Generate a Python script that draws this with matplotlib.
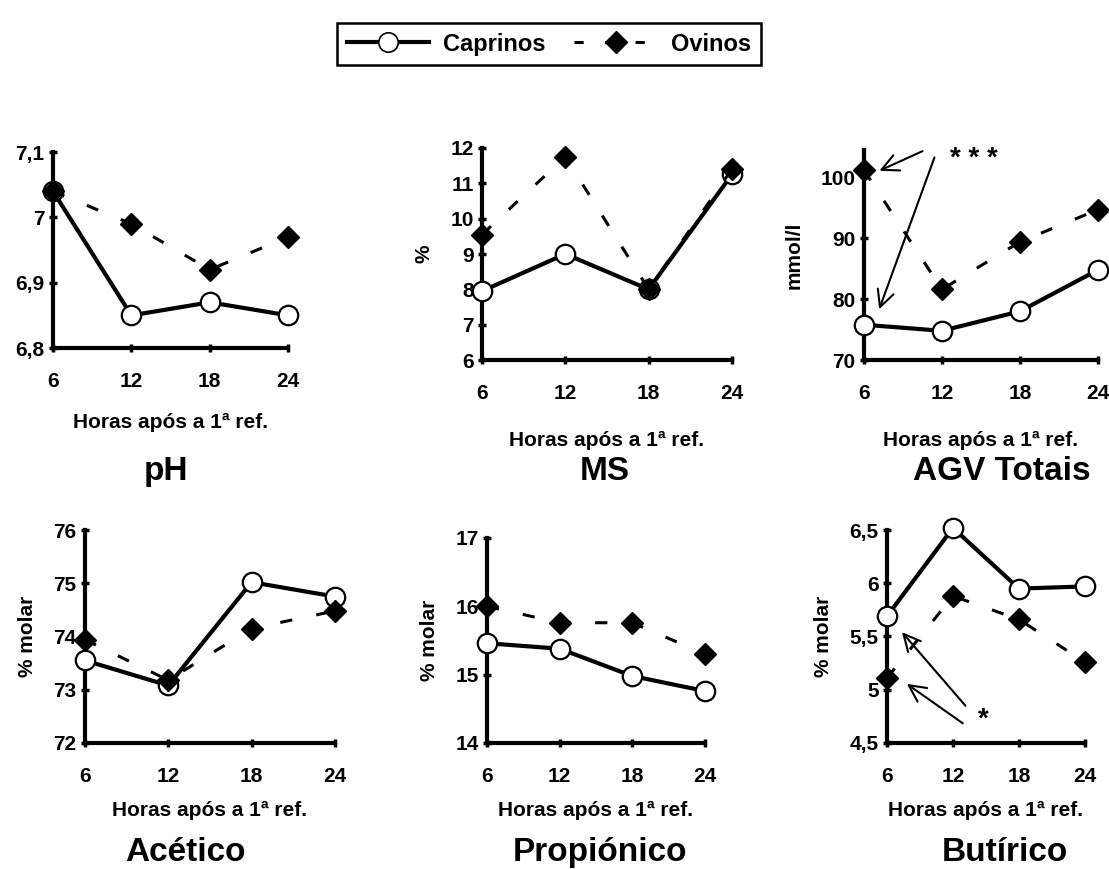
import matplotlib
matplotlib.use("Agg")
import matplotlib.pyplot as plt
from matplotlib import font_manager
from matplotlib.lines import Line2D

# fonte estreita se existir
nomes = {f.name for f in font_manager.fontManager.ttflist}
narrow = 'Liberation Sans Narrow' if 'Liberation Sans Narrow' in nomes else 'Liberation Sans'
plt.rcParams['font.family'] = [narrow, 'DejaVu Sans']
plt.rcParams['font.weight'] = 'bold'

horas = [6, 12, 18, 24]

# pH
ph_cap = [7.04, 6.85, 6.87, 6.85]
ph_ovi = [7.04, 6.99, 6.92, 6.97]
ph_ticks = [6.8, 6.9, 7.0, 7.1]
ph_labels = ['6,8', '6,9', '7', '7,1']

# MS
ms_cap = [7.95, 9.0, 8.0, 11.25]
ms_ovi = [9.55, 11.75, 8.0, 11.4]
ms_ticks = [6, 7, 8, 9, 10, 11, 12]
ms_labels = ['6', '7', '8', '9', '10', '11', '12']

# AGV totais
agv_cap = [75.8, 74.8, 78.0, 84.8]
agv_ovi = [101.2, 81.6, 89.4, 94.7]
agv_ticks = [70, 80, 90, 100]
agv_labels = ['70', '80', '90', '100']

# Acetico
ace_cap = [73.55, 73.08, 75.02, 74.75]
ace_ovi = [73.94, 73.18, 74.15, 74.48]
ace_ticks = [72, 73, 74, 75, 76]
ace_labels = ['72', '73', '74', '75', '76']

# Propionico
pro_cap = [15.46, 15.38, 14.98, 14.76]
pro_ovi = [16.0, 15.76, 15.76, 15.3]
pro_ticks = [14, 15, 16, 17]
pro_labels = ['14', '15', '16', '17']

# Butirico
but_cap = [5.69, 6.52, 5.95, 5.97]
but_ovi = [5.11, 5.88, 5.66, 5.26]
but_ticks = [4.5, 5.0, 5.5, 6.0, 6.5]
but_labels = ['4,5', '5', '5,5', '6', '6,5']

xlabel = 'Horas após a 1ª ref.'

paineis = [
    # cap, ovi, ticks, labels, ylim, ylabel, titulo, posicao, pos titulo, labelpad
    (ph_cap, ph_ovi, ph_ticks, ph_labels, (6.8, 7.1), '', 'pH',
     [0.0478, 0.5995, 0.212, 0.2255], (0.150, 0.457), 16),
    (ms_cap, ms_ovi, ms_ticks, ms_labels, (6, 12), '%', 'MS',
     [0.4346, 0.5857, 0.2254, 0.244], (0.545, 0.457), 20),
    (agv_cap, agv_ovi, agv_ticks, agv_labels, (70, 104.5), 'mmol/l', 'AGV Totais',
     [0.779, 0.5857, 0.211, 0.2417], (0.903, 0.457), 20),
    (ace_cap, ace_ovi, ace_ticks, ace_labels, (72, 76), '% molar', 'Acético',
     [0.0766, 0.145, 0.2254, 0.2451], (0.167, 0.019), 11),
    (pro_cap, pro_ovi, pro_ticks, pro_labels, (14, 17), '% molar', 'Propiónico',
     [0.4391, 0.145, 0.1966, 0.2359], (0.541, 0.019), 11),
    (but_cap, but_ovi, but_ticks, but_labels, (4.5, 6.5), '% molar', 'Butírico',
     [0.7998, 0.145, 0.1785, 0.2451], (0.906, 0.019), 11),
]

fig = plt.figure(figsize=(11.09, 8.69), dpi=100)
eixos = []

for cap, ovi, ticks, labels, ylim, ylab, titulo, pos, tpos, lpad in paineis:
    ax = fig.add_axes(pos)
    ax.plot(horas, cap, color='black', lw=3, marker='o', ms=14,
            mfc='white', mec='black', mew=1.6, clip_on=False, zorder=3)
    ax.plot(horas, ovi, color='black', lw=2.2, dashes=(4, 8), marker='D',
            ms=11, mfc='black', mec='black', clip_on=False, zorder=4)
    ax.set_xlim(6, 24)
    ax.set_ylim(*ylim)
    ax.set_xticks(horas)
    ax.set_xticklabels([str(h) for h in horas])
    ax.set_yticks(ticks)
    ax.set_yticklabels(labels)
    for s in ['top', 'right']:
        ax.spines[s].set_visible(False)
    for s in ['left', 'bottom']:
        ax.spines[s].set_linewidth(3)
    ax.tick_params(direction='inout', length=6, width=2.5, labelsize=15, pad=14)
    ax.tick_params(axis='y', pad=3)
    ax.set_xlabel(xlabel, fontsize=15, fontweight='bold', labelpad=lpad)
    if ylab:
        ax.set_ylabel(ylab, fontsize=15, fontweight='bold', labelpad=12)
    fig.text(tpos[0], tpos[1], titulo, fontsize=24, fontweight='bold',
             family='Liberation Sans', ha='center', va='center')
    ax.patch.set_visible(False)
    eixos.append(ax)

# setas de significancia
ax = eixos[2]
ax.annotate('', xy=(7.0, 100.9), xytext=(10.7, 104.5),
            arrowprops=dict(arrowstyle='->', lw=1.5, mutation_scale=30),
            annotation_clip=False)
ax.annotate('', xy=(7.1, 77.9), xytext=(11.5, 103.7),
            arrowprops=dict(arrowstyle='->', lw=1.5, mutation_scale=30),
            annotation_clip=False)
ax.text(12.6, 103.0, '* * *', fontsize=20, fontweight='bold',
        family='Liberation Sans', va='center', ha='left')

ax = eixos[5]
ax.annotate('', xy=(7.2, 5.56), xytext=(13.3, 4.83),
            arrowprops=dict(arrowstyle='->', lw=1.5, mutation_scale=30),
            annotation_clip=False)
ax.annotate('', xy=(7.6, 5.07), xytext=(13.1, 4.67),
            arrowprops=dict(arrowstyle='->', lw=1.5, mutation_scale=30),
            annotation_clip=False)
ax.text(14.3, 4.72, '*', fontsize=20, fontweight='bold',
        family='Liberation Sans', va='center', ha='left')

# legenda
h_cap = Line2D([], [], color='black', lw=3, marker='o', ms=14,
               mfc='white', mec='black', mew=1.2)
h_ovi = Line2D([], [], color='black', lw=2.2, dashes=(3, 7), marker='D',
               ms=11, mfc='black', mec='black')
leg = fig.legend([h_cap, h_ovi], ['Caprinos', 'Ovinos'], loc='upper center',
                 bbox_to_anchor=(0.495, 0.987), ncol=2, handlelength=3.5,
                 fancybox=False, framealpha=1, edgecolor='black',
                 prop={'family': 'Liberation Sans', 'weight': 'bold', 'size': 17},
                 borderpad=0.4, columnspacing=1.2, handletextpad=0.6)
leg.get_frame().set_linewidth(1.8)

fig.savefig('out.png', dpi=100)
